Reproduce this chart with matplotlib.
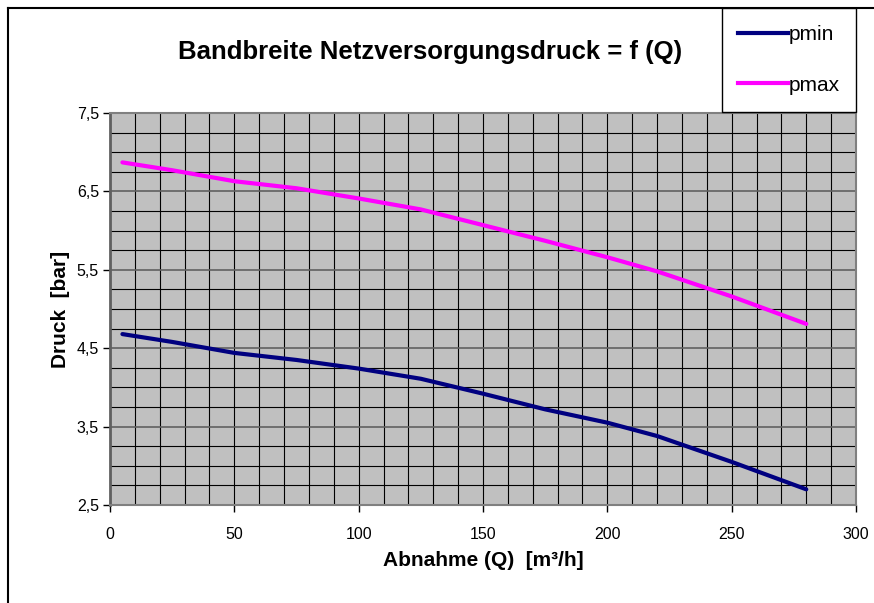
import matplotlib.pyplot as plt
from matplotlib.patches import Rectangle
from matplotlib.lines import Line2D
from matplotlib.ticker import MultipleLocator, FuncFormatter

plt.rcParams['font.family'] = ['Liberation Sans', 'DejaVu Sans']

# Abnahme Q [m3/h]
q = [5, 25, 50, 75, 100, 125, 150, 175, 200, 220, 250, 280]
p_max = [6.87, 6.77, 6.63, 6.54, 6.41, 6.27, 6.07, 5.87, 5.66, 5.48, 5.16, 4.81]
p_min = [4.68, 4.58, 4.44, 4.35, 4.24, 4.11, 3.92, 3.72, 3.55, 3.38, 3.05, 2.70]

title = 'Bandbreite Netzversorgungsdruck = f (Q)'
xlabel = 'Abnahme (Q)  [m³/h]'
ylabel = 'Druck  [bar]'


def main():
    fig = plt.figure(figsize=(8.74, 6.03), dpi=100)
    ax = fig.add_axes([110 / 874, 1 - 505 / 603, 746 / 874, 392 / 603])

    ax.set_facecolor('#c0c0c0')
    ax.set_xlim(0, 300)
    ax.set_ylim(2.5, 7.5)

    ax.xaxis.set_major_locator(MultipleLocator(50))
    ax.xaxis.set_minor_locator(MultipleLocator(10))
    ax.yaxis.set_minor_locator(MultipleLocator(0.25))
    ax.set_yticks([2.5, 3.5, 4.5, 5.5, 6.5, 7.5])
    ax.yaxis.set_major_formatter(FuncFormatter(lambda v, p: f'{v:.1f}'.replace('.', ',')))

    ax.grid(which='minor', color='black', linewidth=0.8)
    ax.grid(which='major', axis='x', color='black', linewidth=0.8)
    ax.grid(which='major', axis='y', color='#606060', linewidth=1.2)
    ax.set_axisbelow(True)

    ax.tick_params(which='minor', length=0)
    ax.tick_params(which='major', direction='out', length=5, width=1,
                   color='black', labelsize=11.5)
    ax.tick_params(axis='x', pad=11)
    ax.tick_params(axis='y', pad=3)

    for s in ('top', 'right', 'bottom'):
        ax.spines[s].set_color('#808080')
        ax.spines[s].set_linewidth(1.5)
    ax.spines['left'].set_color('#606060')
    ax.spines['left'].set_linewidth(2)

    ax.plot(q, p_min, color='#000080', linewidth=3, solid_capstyle='round')
    ax.plot(q, p_max, color='#ff00ff', linewidth=3, solid_capstyle='round')

    ax.set_xlabel(xlabel, fontsize=15, fontweight='bold', labelpad=6)
    ax.set_ylabel(ylabel, fontsize=15, fontweight='bold', labelpad=5)

    fig.text(430 / 874, 1 - 52 / 603, title, fontsize=18.5, fontweight='bold',
             ha='center', va='center')

    # outer chart border (left and top visible)
    fig.add_artist(Line2D([8 / 874, 8 / 874], [0, 1 - 8 / 603], color='black',
                          linewidth=1.5, transform=fig.transFigure))
    fig.add_artist(Line2D([8 / 874, 1], [1 - 8 / 603, 1 - 8 / 603], color='black',
                          linewidth=1.5, transform=fig.transFigure))

    # legend box
    fig.add_artist(Rectangle((722 / 874, 1 - 112 / 603), 134 / 874, 104 / 603,
                             transform=fig.transFigure, facecolor='white',
                             edgecolor='black', linewidth=1, zorder=5))
    handles = [Line2D([], [], color='#000080', linewidth=3),
               Line2D([], [], color='#ff00ff', linewidth=3)]
    leg = fig.legend(handles, ['pmin', 'pmax'], loc='center',
                     bbox_to_anchor=(789 / 874, 1 - 60 / 603),
                     frameon=False, fontsize=15, handlelength=2.4,
                     handletextpad=0.05, labelspacing=1.5)
    leg.set_zorder(6)

    fig.savefig('out.png', dpi=100)


if __name__ == '__main__':
    main()
